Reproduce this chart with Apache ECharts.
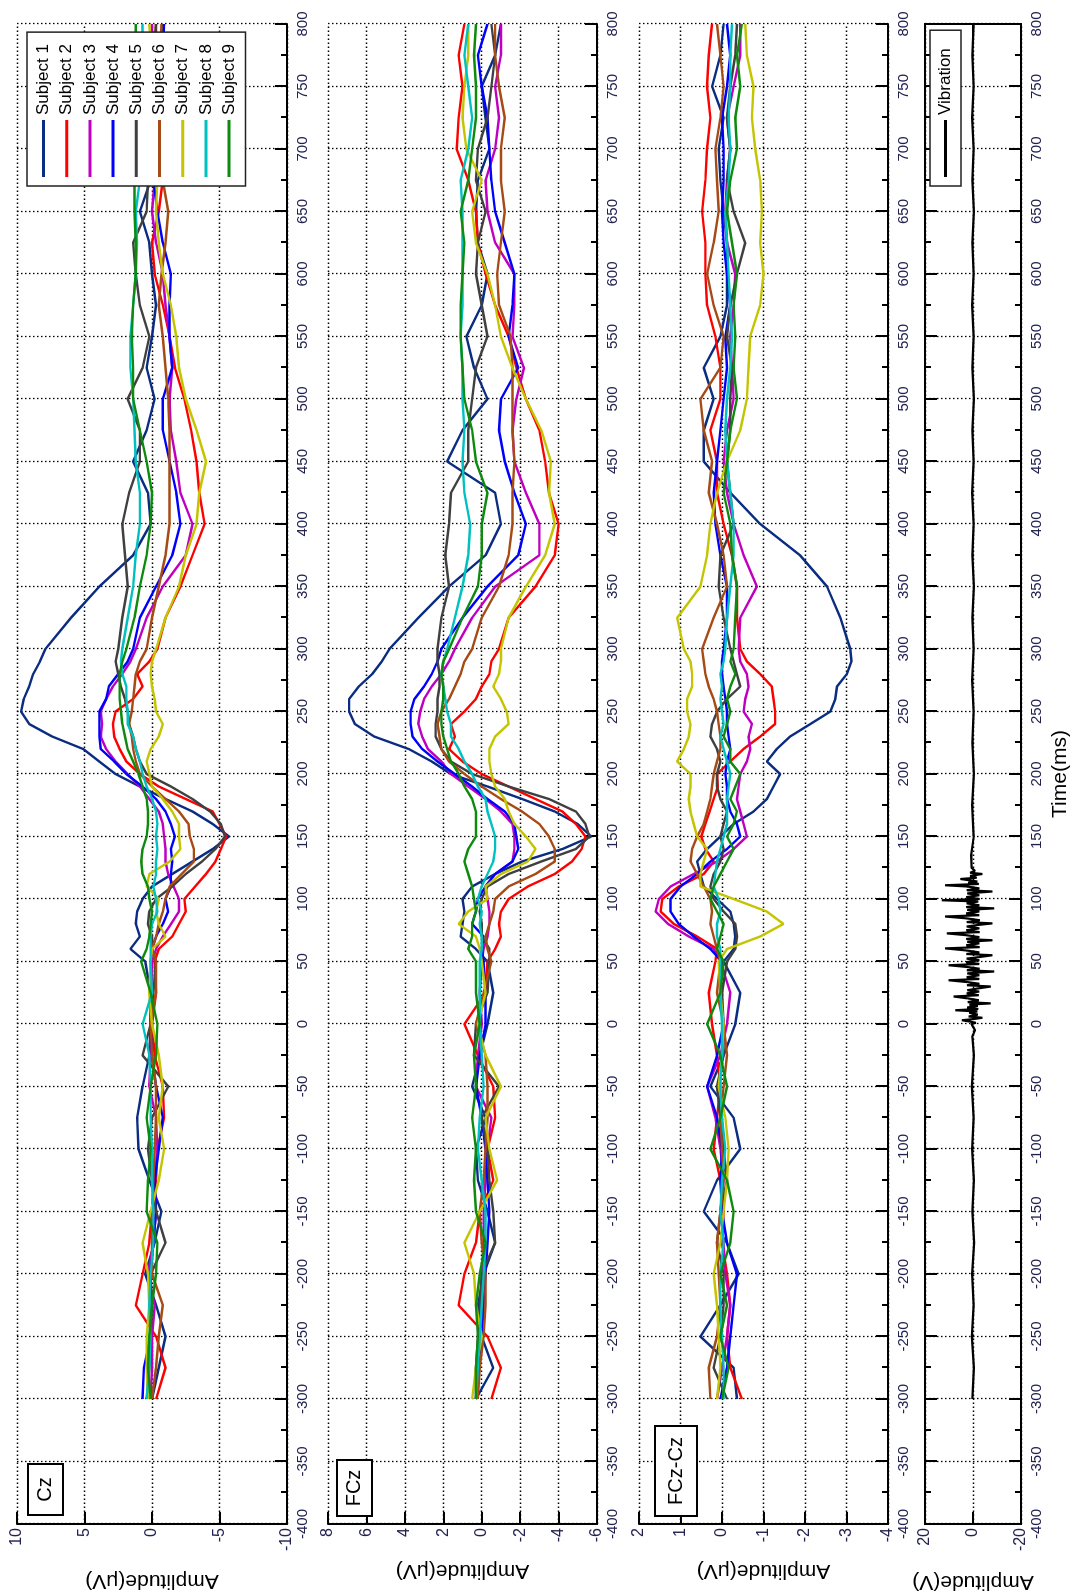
<!DOCTYPE html>
<html>
<head>
<meta charset="utf-8">
<script src="https://cdn.jsdelivr.net/npm/echarts@6/dist/echarts.min.js"></script>
<style>
html, body { margin: 0; padding: 0; background: #fff; overflow: hidden; }
#page { position: relative; width: 1081px; height: 1595px; overflow: hidden; background: #fff; }
/* the figure is drawn landscape and turned a quarter turn to the left, like the source */
#chart { position: absolute; left: 0; top: 0; width: 1595px; height: 1081px;
  transform-origin: 0 0; transform: translate(0, 1595px) rotate(-90deg); }
</style>
</head>
<body>
<div id="page"><div id="chart"></div></div>
<script>
// sample times (ms)
const times = [-300,-275,-250,-225,-200,-175,-150,-125,-100,-75,-50,-25,0,
  25,
  50,60,70,80,90,100,110,120,130,140,150,160,170,180,190,200,
  210,220,230,240,250,260,270,280,290,300,
  325,350,375,400,425,450,475,500,525,550,575,600,625,650,675,700,725,750,775,800]

const subjects = ['Subject 1','Subject 2','Subject 3','Subject 4','Subject 5','Subject 6','Subject 7','Subject 8','Subject 9']
const colors = ['#0a2d82','#ff0000','#c000c0','#0000ff','#404040','#a64b16','#c4c400','#00c0c0','#0e8a0e']

// Cz (uV)
const cz = [
  [0,-0.5,-1.0,-0.3,0.5,-0.2,-0.7,0.2,1.0,1.1,0.7,0.2,0.1, 0.1,
   0.5,1.6,0.9,1.2,1.1,0.7,0,-1.5,-3.0,-4.5,-5.7,-4.5,-3.0,-1.0,0.9,2.7,
   3.9,5.1,7.4,9.1,9.7,9.5,9.1,8.8,8.3,7.9,
   6.0,3.9,1.4,0.1,0.3,1.4,0.4,-0.2,0.4,0,-0.3,0,0.2,0.9,0.1,-0.3,-0.5,-0.6,-0.7,-0.8],
  [-0.3,-1.0,-0.3,1.2,0.7,0.2,0,-0.3,-0.4,-0.9,-0.8,-0.2,0, -0.3,
   -0.2,-0.5,-1.5,-2.0,-2.5,-2.4,-3.2,-4.0,-4.7,-5.1,-5.5,-5.0,-4.5,-2.5,-0.5,0.9,
   1.9,2.4,2.8,2.9,2.7,1.4,0.7,1.1,0.2,-0.4,
   -1.0,-2.1,-3.0,-3.9,-3.5,-3.3,-2.9,-2.4,-1.7,-1.3,-0.8,-0.2,0,-0.5,-0.8,-0.6,-0.5,-0.4,-0.3,-0.3],
  [0.1,0,0,-0.2,0.3,-0.1,-0.3,-0.2,-0.4,-0.3,0.2,0.1,0.1, 0,
   0,-0.3,-0.8,-1.4,-2.0,-2.0,-1.6,-1.2,-1.0,-1.0,-0.9,-0.8,-0.5,0.2,0.9,1.8,
   2.7,3.4,3.8,3.7,3.8,3.4,2.9,2.2,1.6,1.2,
   0.4,-0.8,-2.5,-3.0,-2.1,-1.8,-1.4,-1.3,-1.5,-1.3,-1.0,-0.8,-0.3,0,-0.2,-0.2,-0.1,0,0,0],
  [0.7,0.6,0.1,0.2,0.1,-0.1,-0.3,-0.2,-0.5,-0.8,-0.3,0,0.1, 0.1,
   0.1,0,-0.3,-0.8,-1.2,-1.0,-1.4,-1.4,-1.5,-1.4,-1.7,-1.4,-1.0,-0.3,0.7,1.9,
   2.8,3.8,3.9,3.9,3.9,3.4,3.2,2.5,1.8,1.4,
   0.9,-0.3,-1.5,-2.1,-1.8,-1.3,-0.8,-0.8,-1.5,-1.3,-1.3,-1.4,-0.8,-0.4,-0.1,-0.4,-0.6,-0.7,-0.8,-0.9],
  [0.4,0.2,0.1,0,0.1,-1.0,-0.3,0,0.3,0,-1.2,0.7,0.1, -0.1,
   -0.3,0,0,0.3,0.2,-0.3,-1.5,-2.5,-3.7,-4.7,-5.4,-5.1,-4.3,-3.0,-1.4,0.4,
   0.9,1.2,1.4,1.7,1.8,2.0,2.3,2.5,2.7,2.5,
   2.2,1.8,2.0,2.2,1.7,0.9,0.9,1.8,0.7,0.2,0.9,1.2,1.4,0.4,0.3,0.2,0.1,0,-0.1,-0.3],
  [0,-0.3,-0.5,-0.8,0,0,0,-0.1,-0.2,-0.3,-0.3,0,0.1, -0.3,
   -0.3,0,-0.3,-0.5,-0.8,-1.0,-1.3,-2.2,-3.1,-3.1,-2.8,-2.7,-2.0,-1.0,0,0.9,
   1.2,1.4,1.5,1.7,1.5,1.4,1.3,1.2,0.9,0.4,
   0,-0.5,-1.0,-1.3,-1.3,-1.3,-1.3,-1.2,-1.0,-0.8,-0.5,-0.7,-1.0,-1.2,-0.8,-0.7,-0.7,-0.6,-0.6,-0.7],
  [0.3,0.4,0.4,0.2,0.3,0.7,0.1,-0.5,-0.9,-0.5,-0.8,-0.5,0, 0.2,
   0.1,0,-1.0,-0.5,-0.3,-0.5,0.4,0.2,-1.3,-2.1,-2.0,-2.0,-1.5,-0.8,0,0.2,
   0.4,0.1,-0.5,-0.8,-0.3,-0.2,0,0.1,0,-0.3,
   -1.0,-2.0,-2.5,-3.3,-3.5,-4.0,-3.3,-2.5,-2.0,-1.8,-1.4,-0.8,-0.5,-0.3,-0.4,-0.3,-0.2,-0.1,0,0.2],
  [0.4,0.2,0.1,0.2,0.1,-0.1,-0.1,0,0,0.1,0.1,0.2,0.7, 0,
   0.1,0.1,0.1,0,-0.4,-0.3,-0.1,-0.3,-0.3,-0.4,-0.3,-0.4,-0.3,0,0.4,0.7,
   0.9,1.2,1.4,1.8,1.8,1.9,1.9,2.2,2.3,2.2,
   1.8,1.4,1.2,0.9,0.9,1.2,1.3,1.4,1.6,1.6,1.4,1.2,1.1,1.2,0.9,0.8,0.8,0.7,0.7,0.7],
  [0.1,0.3,0.2,0,-0.3,-0.4,0.4,0.3,0.1,0.4,0.1,-0.3,-0.4, 0.1,
   0.8,0.4,0.2,0.1,0,0.2,0.3,0.7,0.8,0.7,0.4,0.3,0.3,0.4,0.7,1.0,
   1.4,1.8,2.0,2.2,2.3,2.4,2.4,2.4,2.2,1.9,
   1.3,0.9,0.4,0.1,0,0.4,0.9,1.4,1.4,1.5,1.4,1.2,1.2,1.3,1.3,1.3,1.3,1.2,1.2,1.2]
]

// FCz (uV)
const fcz = [
  [0.3,-0.6,0,0.2,-0.1,-0.7,-0.3,0.2,0.3,-0.2,0.5,0.1,-0.3, -0.6,
   -0.3,0.3,1.1,1.0,0.9,1.0,0.5,-0.7,-2.1,-4.2,-5.7,-5.0,-3.8,-2.1,-0.3,1.6,
   2.6,3.8,5.6,6.6,6.9,6.9,6.4,5.7,5.2,4.8,
   3.3,1.7,-0.2,-1.0,-0.7,1.8,1.0,-0.3,0.4,0.8,0,-0.3,0.2,0.3,0.2,-0.4,-0.2,0,-0.7,-1.0],
  [-0.5,-1.0,-0.3,1.2,0.9,0.3,0.1,-0.6,-0.3,-0.7,-0.6,0.2,0.9, -0.2,
   -0.3,-0.7,-1.0,-0.9,-1.0,-1.4,-2.4,-3.8,-4.7,-5.2,-5.4,-4.9,-4.2,-2.8,-1.4,0,
   1.0,1.7,1.4,1.6,0.9,0.3,0,-0.4,-0.5,-0.9,
   -1.4,-2.8,-3.8,-4.0,-3.5,-3.3,-3.0,-2.3,-1.8,-1.4,-0.7,-0.2,0.2,0.3,0.7,1.3,1.2,1.0,1.2,0.9],
  [0.3,0.2,0.1,0,0,-0.1,-0.1,-0.2,-0.3,-0.5,0.3,0.2,0, 0.1,
   0,-0.1,-0.3,-0.4,-0.4,-0.3,-0.2,-0.7,-1.6,-1.7,-1.7,-1.6,-1.0,-0.2,0.7,1.6,
   2.1,2.8,3.1,3.3,3.2,3.0,2.6,2.1,1.7,1.4,
   0.5,-0.7,-3.0,-3.0,-2.3,-1.7,-1.6,-1.8,-2.2,-1.6,-1.7,-1.7,-0.7,-0.3,-0.2,-0.7,-0.9,-0.7,-1.0,-1.0],
  [0.3,0.2,0,-0.1,-0.2,-0.3,-0.4,-0.3,-0.2,0,0.3,0.1,-0.2, -0.2,
   -0.1,0,-0.1,0.5,0.3,0.2,-0.2,-0.7,-1.6,-1.9,-1.8,-1.7,-1.2,-0.3,0.5,1.4,
   2.3,3.1,3.6,3.7,3.7,3.5,3.0,2.6,2.3,2.1,
   1.0,-0.3,-1.9,-2.3,-1.7,-1.2,-0.9,-1.0,-1.9,-1.4,-1.6,-1.7,-1.2,-0.7,-0.5,-0.4,-0.3,0,0.2,-0.3],
  [0.3,0.3,0.2,0.1,0,-0.7,-0.6,-0.4,-0.3,0,-0.9,0.4,0.3, -0.3,
   -0.4,-0.4,0,0,0.1,0,-0.3,-1.4,-3.1,-4.9,-5.6,-5.4,-4.9,-3.5,-1.4,0.5,
   1.6,2.1,2.4,2.4,2.3,2.3,2.2,2.2,2.3,2.3,
   2.1,1.7,1.9,1.7,1.6,0.7,0.7,0.5,0.3,-0.3,0,0.3,0.2,-0.2,0.3,0.2,-0.3,-0.5,-0.7,-0.5],
  [0.2,0.1,-0.1,-0.2,-0.2,0,0.1,-0.1,-0.2,-0.3,-0.3,-0.2,0.3, -0.1,
   -0.5,-0.3,-0.2,-0.4,-0.6,-0.7,-1.4,-2.8,-3.8,-3.8,-3.5,-3.0,-2.1,-1.0,0,0.9,
   1.7,2.1,2.2,2.3,2.1,1.7,1.4,1.1,0.9,0.5,
   0,-0.9,-1.4,-1.6,-1.6,-1.7,-1.6,-1.6,-1.6,-1.5,-0.9,-0.8,-1.0,-1.2,-1.0,-1.0,-1.2,-0.9,-0.7,-0.7],
  [0.5,0.3,0,0.3,0.4,0.9,0.1,-0.8,-0.4,-0.2,-1.0,-0.2,0.2, -0.2,
   0,0.1,0.3,1.2,0.7,-0.3,-0.2,-1.0,-2.4,-2.8,-2.3,-1.7,-1.4,-1.2,-0.7,-0.5,
   -0.4,-0.4,-0.7,-1.4,-1.3,-1.0,-0.6,-0.9,-1.0,-1.0,
   -1.4,-2.3,-3.3,-3.8,-3.5,-3.6,-3.1,-2.3,-1.6,-1.0,-0.7,-0.3,0.3,0.5,0,0.8,1.0,0.9,0.7,0.7],
  [0.3,0.2,0.1,0,-0.1,-0.2,-0.2,0,0.2,0.1,-0.1,0,0.1, 0.1,
   0.1,0,0,0.1,0,0.2,0,-0.3,-0.6,-0.7,-0.7,-0.5,-0.3,-0.2,0.2,0.5,
   0.9,1.2,1.6,1.6,1.8,1.9,2.0,2.1,2.0,1.8,
   1.4,1.0,0.7,0.6,0.9,1.0,0.9,1.0,1.0,1.1,1.0,1.0,1.0,1.0,1.1,0.7,0.5,0.7,0.9,0.7],
  [0.3,0.3,0.2,0.3,0.1,-0.2,0.3,0.4,0.3,0.5,0.3,0.4,0.1, 0.3,
   0.3,0.7,0.5,0.5,0.3,0.4,0.5,0.7,0.9,0.7,0.3,0.3,0.3,0.5,0.9,1.2,
   1.6,1.8,2.0,2.1,2.1,2.0,2.0,2.1,2.0,1.7,
   1.0,0.2,0,0,-0.3,0.3,0.5,0.9,1.0,1.1,1.1,1.0,0.9,1.1,0.7,0.5,0.3,0.3,0.4,0.3]
]

// FCz-Cz (uV)
const diff = [
  [-0.36,-0.28,0.52,0.04,-0.4,-0.12,0.44,0.12,-0.44,-0.28,0.28,-0.04,-0.32, -0.44,
   -0.04,-0.28,-0.32,-0.28,-0.2,0.12,0.44,0.52,0.6,0.36,0.04,-0.28,-0.76,-1.08,-1.24,-1.4,
   -1.08,-1.32,-1.64,-2.13,-2.61,-2.73,-2.77,-3.01,-3.12,-3.09,
   -2.85,-2.53,-1.88,-0.92,-0.2,0.44,0.44,0.2,0.44,0.04,-0.12,-0.12,-0.12,-0.04,0.04,0.08,-0.04,0.24,0.04,-0.04],
  [-0.48,-0.2,-0.12,-0.2,-0.12,0,-0.04,0.04,0.2,0.12,0.04,0.12,0.24, 0.32,
   0.16,0.12,0.6,1.16,1.48,1.44,1.04,0.44,0.2,0.4,0.5,0.4,0.3,0.2,0.1,0.12,
   -0.2,-0.52,-0.92,-1.28,-1.28,-1.24,-1.2,-0.92,-0.6,-0.44,
   -0.36,-0.36,-0.24,-0.04,0.12,0.12,0.28,0.04,0.04,0.16,0.36,0.4,0.4,0.48,0.4,0.36,0.28,0.36,0.32,0.24],
  [0.12,0,-0.12,-0.2,-0.08,-0.04,0.04,-0.04,0.04,0.16,0.36,0.04,-0.12, -0.2,
   0.04,0.2,0.8,1.3,1.6,1.52,1.24,0.68,0.12,-0.28,-0.6,-0.52,-0.44,-0.36,-0.4,-0.44,
   -0.6,-0.68,-0.64,-0.72,-0.52,-0.56,-0.64,-0.6,-0.44,-0.4,
   -0.44,-0.84,-0.52,-0.28,-0.12,-0.04,-0.12,-0.28,-0.24,-0.2,-0.28,-0.32,-0.12,-0.08,-0.12,-0.2,-0.12,-0.28,-0.44,-0.44],
  [0.04,-0.12,-0.2,-0.28,-0.36,-0.12,0,0.04,0,0.12,0.36,0.12,-0.04, 0.04,
   0,0.28,0.68,1.04,1.24,1.24,1.0,0.6,0.28,-0.12,-0.44,-0.36,-0.2,-0.12,-0.12,-0.08,
   -0.12,-0.2,-0.16,-0.12,-0.12,-0.08,-0.04,0,0,-0.04,
   -0.12,-0.12,0.04,0.16,0.2,0.12,0.04,-0.04,-0.12,-0.08,-0.2,-0.12,-0.04,0,-0.04,-0.04,0,-0.12,-0.2,-0.12],
  [-0.12,0.2,0.04,-0.04,-0.04,0.12,0.04,-0.12,-0.04,0.04,0.12,-0.04,-0.04, 0,
   -0.12,-0.32,-0.36,-0.32,-0.04,0.2,0.28,0.2,0.04,-0.04,0.04,-0.04,-0.12,0.04,0.12,0.12,
   0.04,0.12,0.28,0.24,0.12,-0.12,-0.44,-0.36,-0.28,-0.2,
   -0.04,0.08,0.04,-0.28,-0.2,-0.12,-0.2,-0.2,-0.24,-0.12,-0.2,-0.36,-0.56,-0.28,-0.12,-0.2,-0.12,-0.2,-0.32,-0.36],
  [0.28,0.32,0.12,0.04,0.08,0.12,0.04,-0.04,0,0.04,-0.04,-0.12,-0.04, 0.12,
   0.04,0.12,0.2,0.28,0.24,0.28,0.44,0.6,0.76,0.72,0.6,0.44,0.36,0.28,0.24,0.2,
   0.12,0.04,0.04,0.08,0.12,0.2,0.32,0.4,0.44,0.48,
   0.2,-0.12,-0.04,0.12,0.32,0.24,0.44,0.52,0.04,-0.04,0.2,0.36,0.2,0.08,0.12,0.16,0.04,-0.04,0.04,0.12],
  [0.12,0.04,0.08,0.12,0.2,0.04,-0.04,-0.12,-0.16,-0.08,0.08,0,-0.04, 0.04,
   0.08,-0.12,-0.92,-1.48,-1.08,-0.28,0.52,0.52,0.44,0.36,0.6,0.68,0.76,0.8,0.76,0.76,
   1.08,0.92,0.8,0.76,0.84,0.84,0.72,0.72,0.76,0.92,
   1.08,0.52,0.36,0.28,0.12,-0.12,-0.44,-0.6,-0.64,-0.68,-0.92,-1.0,-0.92,-0.96,-0.92,-0.8,-0.72,-0.76,-0.6,-0.56],
  [-0.04,-0.04,0,0.04,0.04,-0.04,0.04,0,-0.08,0,0.04,0,0, 0.04,
   0.04,0.04,0.12,0.12,0.04,0.08,0.2,0.16,0.12,0.04,-0.04,-0.12,-0.12,-0.12,-0.16,-0.2,
   -0.12,-0.04,0.04,-0.04,0,0.04,0,0.04,-0.04,-0.08,
   -0.12,-0.2,-0.28,-0.28,-0.2,-0.12,-0.08,-0.12,-0.2,-0.24,-0.2,-0.16,-0.12,-0.08,-0.16,-0.2,-0.16,-0.2,-0.2,-0.24],
  [0,-0.16,0.04,-0.12,0.04,-0.2,-0.28,-0.12,0.28,0.04,-0.12,0.04,0.36, 0.04,
   -0.04,0.12,0.04,-0.04,0.12,0.28,0.2,0.04,-0.12,-0.28,-0.12,-0.28,-0.36,-0.2,-0.32,-0.44,
   -0.2,-0.2,-0.04,-0.12,-0.2,-0.12,-0.2,-0.32,-0.2,-0.28,
   -0.32,-0.36,-0.24,-0.2,-0.04,-0.12,-0.2,-0.36,-0.28,-0.32,-0.28,-0.36,-0.24,-0.12,-0.2,-0.36,-0.32,-0.44,-0.36,-0.48]
]

// vibration (V), [time, value]
const vibration = [
  [-300,0.3],[-275,-0.4],[-250,0.5],[-225,-0.3],[-200,0.4],[-175,-0.5],[-150,0.3],[-125,-0.4],
  [-100,0.4],[-75,-0.3],[-50,0.5],[-25,-0.4],[-10,0.3],[-5,-0.8],[0,0.6],
  [1,-1.2],[2,1.5],[3,4.6],[4,-0.5],[5,-3.9],[6,1.8],[7.5,-2],[9,1.6],[10,-1.8],[11,7.4],[12,-2.2],[13.2,2.4],[14.5,-2],[15.5,1.5],[16.5,-7.4],
  [17.5,2.2],[19,-2.4],[20.5,2.2],[22,8.1],[23,-2.4],[24.5,2.6],[26,-2.6],[27,2.4],[28.5,-2.2],[30,-7.4],[31,2.5],[32.2,-2.6],[33.5,2.2],[35,10.2],
  [36,-2.6],[37.5,2.6],[39,-2.6],[40.5,2.4],[42,-8.8],[43,2.6],[44.2,-2.8],[45.6,2.4],[47,10.2],[48,-2.6],[49.5,2.8],[51,-2.6],[52.3,2.6],[53.5,-2.4],[55,-8.1],
  [56,2.8],[57.3,-2.6],[58.8,2.6],[60.5,11.6],[61.5,-2.8],[63,2.8],[64.5,-2.6],[65.8,2.4],[67,-8.1],[68,2.8],[69.5,-2.6],[71,2.6],[72.5,10.9],
  [73.5,-2.8],[75,2.8],[76.5,-2.6],[78,2.6],[79.3,-2.4],[80.5,-8.1],[81.5,2.6],[83,-2.8],[84.5,2.6],[86,11.6],[87,-2.6],[88.5,2.8],[90,-2.6],[91.3,2.4],[92.5,-8.8],
  [93.5,2.8],[95,-2.6],[96.5,2.6],[98,-2.2],[99,13],[100,-2.8],[101.5,2.8],[103,-2.6],[104.5,2.4],[106,-8.1],[107,2.6],[108.5,-2.6],[110,2.4],[111,11.6],
  [112,-2.4],[113,2],[114,-1.8],[115,1.6],[116,5.3],[117,-1.5],[118.5,1.2],[120,-3.9],[121,1.2],[122.5,-0.8],[125,0.6],
  [135,0.8],[150,-0.3],[175,0.4],[200,-0.4],[225,0.3],[250,-0.3],[275,0.4],[300,-0.3],[325,0.3],
  [350,-0.4],[375,0.3],[400,-0.3],[425,0.4],[450,-0.3],[475,0.3],[500,-0.4],[525,0.3],[550,-0.3],
  [575,0.4],[600,-0.3],[625,0.3],[650,-0.4],[675,0.3],[700,-0.3],[725,0.4],[750,-0.3],[775,0.3],[800,-0.3]
]

const font = 'Liberation Sans, Arial, Helvetica, sans-serif'
const tickColor = '#222250'
const dotted = { color: '#000', width: 1.3, type: [1.5, 2.5] }
// plain horizontal bar for legend keys, 57x17 box (tiny end points keep the box size)
const lineIcon = 'path://M0,0L0.05,0Z M0,7L57,7L57,10L0,10Z M0,17L0.05,17Z'

const grids = [
  { top: 17, height: 270 },
  { top: 328, height: 269 },
  { top: 639, height: 249 },
  { top: 925, height: 96, show: true, borderColor: '#000', borderWidth: 2 }
].map(g => Object.assign({ left: 71, right: 24, containLabel: false, outerBoundsMode: 'none' }, g))

function timeAxis(i, extra) {
  return Object.assign({
    type: 'value', gridIndex: i, min: -400, max: 800, interval: 50,
    axisLine: { show: true, onZero: false, lineStyle: { color: '#000', width: 2 } },
    axisTick: { show: true, inside: true, length: 12, lineStyle: { color: '#000', width: 2 } },
    minorTick: { show: true, splitNumber: 2, length: 6, lineStyle: { color: '#000', width: 2 } },
    axisLabel: { color: tickColor, fontSize: 15, fontFamily: font, margin: 8 },
    splitLine: { show: true, lineStyle: dotted }
  }, extra || {})
}

function ampAxis(i, min, max, interval, name, gap) {
  return {
    type: 'value', gridIndex: i, min: min, max: max, interval: interval,
    name: name, nameLocation: 'middle', nameGap: gap,
    nameTextStyle: { fontSize: 21, fontFamily: font, color: '#000' },
    axisLine: { show: true, onZero: false, lineStyle: { color: '#000', width: 2 } },
    axisTick: { show: true, inside: true, length: 12, lineStyle: { color: '#000', width: 2 } },
    axisLabel: { color: tickColor, fontSize: 16, fontFamily: font, margin: 4 },
    splitLine: { show: true, lineStyle: dotted }
  }
}

const series = []
;[cz, fcz, diff].forEach((panel, p) => {
  panel.forEach((vals, s) => {
    series.push({
      type: 'line', name: subjects[s], xAxisIndex: p, yAxisIndex: p,
      data: times.map((t, k) => [t, vals[k]]),
      symbol: 'none', showSymbol: false,
      lineStyle: { width: 2.4, color: colors[s] }, itemStyle: { color: colors[s] }
    })
  })
})
series.push({
  type: 'line', name: 'Vibration', xAxisIndex: 3, yAxisIndex: 3, data: vibration,
  symbol: 'none', showSymbol: false,
  lineStyle: { width: 2.2, color: '#000' }, itemStyle: { color: '#000' }
})

function labelBox(txt, x, y, w, h) {
  return [
    { type: 'rect', x: x, y: y, shape: { x: 0, y: 0, width: w, height: h },
      style: { fill: '#fff', stroke: '#000', lineWidth: 2 }, z: 100 },
    { type: 'text', x: x + w / 2, y: y + h / 2,
      style: { text: txt, font: '20px ' + font, fill: '#000',
        textAlign: 'center', textVerticalAlign: 'middle', align: 'center', verticalAlign: 'middle' }, z: 101 }
  ]
}

const legendBase = {
  orient: 'vertical', left: 1409,
  icon: lineIcon, symbolKeepAspect: false,
  itemWidth: 57, itemHeight: 17, itemGap: 6.2,
  backgroundColor: '#fff', borderColor: '#222', borderWidth: 1.5,
  textStyle: { fontSize: 17, fontFamily: font, color: '#000' },
  selectedMode: false
}

const option = {
  animation: false,
  backgroundColor: '#fff',
  grid: grids,
  xAxis: [
    timeAxis(0), timeAxis(1), timeAxis(2),
    timeAxis(3, { name: 'Time(ms)', nameLocation: 'middle', nameGap: 29,
      nameTextStyle: { fontSize: 21, fontFamily: font, color: '#000' } }),
    timeAxis(3, { position: 'top', axisLabel: { show: false }, splitLine: { show: false } })
  ],
  yAxis: [
    ampAxis(0, -10, 10, 5, 'Amplitude(\u03bcV)', 46),
    ampAxis(1, -6, 8, 2, 'Amplitude(\u03bcV)', 36),
    ampAxis(2, -4, 2, 1, 'Amplitude(\u03bcV)', 36),
    ampAxis(3, -20, 20, 20, 'Amplitude(V)', 47),
    { type: 'value', gridIndex: 3, min: -20, max: 20, interval: 20, position: 'right',
      axisLine: { show: true, onZero: false, lineStyle: { color: '#000', width: 2 } },
      axisTick: { show: true, inside: true, length: 12, lineStyle: { color: '#000', width: 2 } },
      axisLabel: { show: false }, splitLine: { show: false } }
  ],
  legend: [
    Object.assign({}, legendBase, { top: 27, padding: [8, 12, 8, 9], data: subjects }),
    Object.assign({}, legendBase, { top: 930, padding: [7, 18, 7, 9], data: ['Vibration'] })
  ],
  graphic: {
    elements: [].concat(
      labelBox('Cz', 80, 28, 51, 35),
      labelBox('FCz', 79, 337, 56, 35),
      labelBox('FCz-Cz', 79, 655, 90, 42)
    )
  },
  series: series
}

const chart = echarts.init(document.getElementById('chart'), null, { renderer: 'canvas' })
chart.setOption(option)
</script>
</body>
</html>
